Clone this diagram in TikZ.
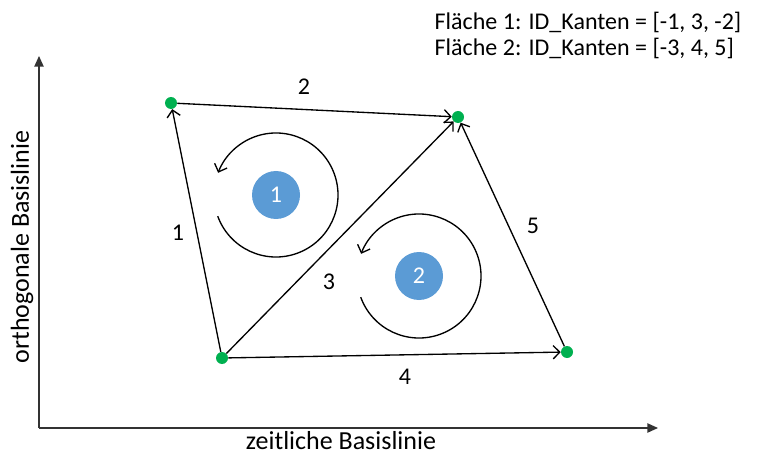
\documentclass[tikz,border=0pt]{standalone}
\usepackage{fontspec}
\setmainfont{Carlito}
\usetikzlibrary{positioning, calc, arrows.meta}
\definecolor{punktgruen}{RGB}{0,176,80}
\definecolor{flaechenblau}{RGB}{91,155,213}

\begin{document}
\begin{tikzpicture}[x=0.75pt,y=-0.75pt,
        vertex/.style={circle,fill=punktgruen,inner sep=0pt,minimum size=9pt},
        face/.style={circle,fill=flaechenblau,text=white,inner sep=0pt,minimum size=36pt,font=\fontsize{18}{21}\selectfont},
        kante/.style={line width=1pt,-{Straight Barb[length=5pt,width=10pt]}},
        achse/.style={line width=1pt,black!80,-{Triangle[length=8pt,width=7pt]}},
        lbl/.style={font=\fontsize{18}{21}\selectfont},
        axlbl/.style={font=\fontsize{19.5}{23}\selectfont}]
            \useasboundingbox (0,0) rectangle (764,456);

            % Axes
            \coordinate (o) at (39,428);
            \coordinate (xend) at (658,428);
            \coordinate (yend) at (39,56);
            \draw[achse] (o) -- (xend);
            \draw[achse] (o) -- (yend);
            \node[axlbl] (xlabel) at (341,441) {zeitliche Basislinie};
            \node[axlbl,rotate=90] (ylabel) at (22,247) {orthogonale Basislinie};

            % Legend
            \node[lbl,anchor=west] (f1) at (430,22) {Fläche 1: ID\_Kanten = [-1, 3, -2]};
            \node[lbl,anchor=west] (f2) at (430,48) {Fläche 2: ID\_Kanten = [-3, 4, 5]};

            % Vertices
            \node[vertex] (a) at (171,103) {};
            \node[vertex] (b) at (458,117) {};
            \node[vertex] (c) at (222,358) {};
            \node[vertex] (d) at (567,352) {};

            % Edges
            \draw[kante] (c) -- (a);
            \draw[kante] (a) -- (b);
            \draw[kante] (c) -- (b);
            \draw[kante] (c) -- (d);
            \draw[kante] (d) -- (b);
            \node[lbl] (e1) at (178,233) {1};
            \node[lbl] (e2) at (304,87) {2};
            \node[lbl] (e3) at (329,282) {3};
            \node[lbl] (e4) at (405,377) {4};
            \node[lbl] (e5) at (533,226) {5};

            % Faces
            \node[face] (f1c) at (276,195) {1};
            \node[face] (f2c) at (419,276) {2};
            \draw[kante] ([shift={(200:46.5pt)}]f1c.center) arc[start angle=200,end angle=519,radius=46.5pt];
            \draw[kante] ([shift={(200:46.5pt)}]f2c.center) arc[start angle=200,end angle=519,radius=46.5pt];
        \end{tikzpicture}
\end{document}
